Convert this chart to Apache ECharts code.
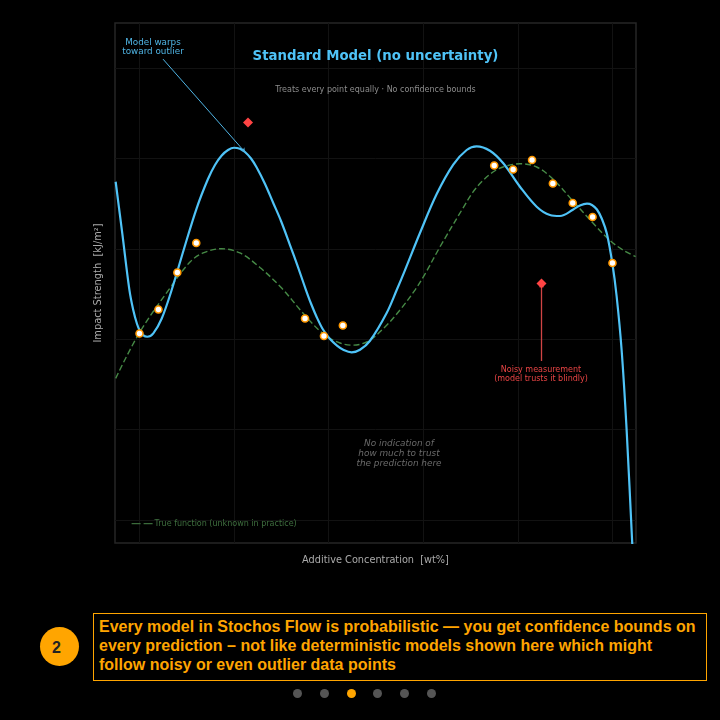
<!DOCTYPE html>
<html>
<head>
    <meta charset="utf-8">
    <title>Standard Model (no uncertainty)</title>
    <script src="https://cdn.jsdelivr.net/npm/echarts@6/dist/echarts.min.js"></script>
    <style>
        html, body { margin: 0; padding: 0; background: #000; width: 720px; height: 720px; overflow: hidden; }
        #main { position: absolute; left: 0; top: 0; width: 720px; height: 600px; }
        #badge { position: absolute; left: 40px; top: 627px; width: 33px; height: 39px; padding-right: 6px; border-radius: 50%; background: #ffa500; color: #222;
                 font: bold 16px/41px "Liberation Sans", sans-serif; text-align: center; }
        #note { position: absolute; left: 93px; top: 613px; width: 598px; height: 63px; padding: 3px 9px 0 5px; border: 1px solid #ffa500; color: #ffa500;
                font: bold 16px/19px "Liberation Sans", sans-serif; }
        #dots { position: absolute; left: 0; top: 689px; width: 720px; height: 9px; }
        #dots span { position: absolute; top: 0; width: 9px; height: 9px; border-radius: 50%; background: #555; }
    </style>
</head>
<body>
<div id="main"></div>
<div id="badge">2</div>
<div id="note">Every model in Stochos Flow is probabilistic — you get confidence bounds on every prediction – not like deterministic models shown here which might follow noisy or even outlier data points</div>
<div id="dots">
    <span style="left:293px"></span><span style="left:320px"></span><span style="left:347px;background:#ffa500"></span>
    <span style="left:373px"></span><span style="left:400px"></span><span style="left:427px"></span>
</div>
<script>
    // values
    var modelCurve = [
        [-0.252, 37.42], [-0.18, 31.53], [-0.108, 25.55], [-0.066, 23.23], [-0.026, 21.68], [0.005, 20.91], [0.037, 20.46],
        [0.082, 20.27], [0.146, 20.65], [0.235, 22.29], [0.34, 25.44], [0.47, 29.98], [0.605, 34.51], [0.724, 37.72],
        [0.798, 39.27], [0.869, 40.32], [0.936, 40.93], [0.999, 41.18], [1.062, 41.06], [1.115, 40.71], [1.179, 39.99],
        [1.239, 38.99], [1.327, 37.17], [1.414, 35.07], [1.496, 33.08], [1.591, 30.42], [1.675, 27.99], [1.76, 25.44],
        [1.813, 23.95], [1.873, 22.46], [1.94, 21.07], [2.014, 20.02], [2.088, 19.3], [2.154, 18.84], [2.243, 18.55],
        [2.331, 18.83], [2.437, 19.83], [2.613, 22.9], [2.719, 25.44], [2.807, 27.65], [2.965, 31.75], [3.142, 36.06],
        [3.317, 39.32], [3.459, 40.93], [3.564, 41.34], [3.705, 40.85], [3.846, 39.46], [4.022, 36.87], [4.199, 34.66],
        [4.339, 33.74], [4.445, 33.63], [4.586, 34.35], [4.656, 34.79], [4.731, 34.99], [4.783, 34.85], [4.836, 34.35],
        [4.889, 33.3], [4.942, 31.64], [5, 28.32], [5.044, 24.78], [5.097, 18.81], [5.15, 9.96], [5.209, -2.54], [5.227, -6.08]
    ];
    var trueCurve = [
        [-0.252, 15.67], [-0.002, 20.69], [0.322, 25.66], [0.534, 28.54], [0.674, 29.54], [0.869, 30.01], [1.062, 29.54],
        [1.274, 27.93], [1.503, 25.66], [1.728, 22.9], [1.943, 20.58], [2.119, 19.58], [2.26, 19.34], [2.419, 19.8],
        [2.595, 21.35], [2.754, 23.23], [2.912, 25.44], [3.018, 27.21], [3.176, 30.2], [3.42, 34.51], [3.525, 36.28],
        [3.631, 37.56], [3.737, 38.5], [3.843, 39.05], [4.022, 39.41], [4.199, 39.05], [4.371, 37.72], [4.582, 35.29],
        [4.794, 32.85], [4.974, 30.92], [5.111, 29.87], [5.245, 29.13]
    ];
    var measurements = [
        [0, 20.63], [0.2, 23.29], [0.4, 27.38], [0.6, 30.64], [1.75, 22.29], [1.95, 20.35], [2.15, 21.52],
        [3.75, 39.21], [3.95, 38.77], [4.15, 39.82], [4.37, 37.22], [4.58, 35.07], [4.79, 33.52], [5, 28.43]
    ];
    var outliers = [[1.147, 43.97], [4.25, 26.16]];
    var xTicks = [0, 1, 2, 3, 4, 5];
    var yTicks = [0, 10, 20, 30, 40, 50];
    var warpLine = [[0.248, 50.99], [1.115, 40.7]];
    var noisyLine = [[4.25, 17.59], [4.25, 26.16]];

    var legendName = 'True function (unknown in practice)';
    var font = '"DejaVu Sans", sans-serif';
    var gridLine = { show: true, lineStyle: { color: '#121212', width: 1 } };
    var warpStyle = { color: '#4fb4e4', width: 1, type: 'solid' };
    var noisyStyle = { color: '#d04444', width: 1.3, type: 'solid' };

    function note(x, y, text, style, color, lineHeight) {
        return {
            type: 'text', x: x, y: y, z: 50, silent: true,
            style: { text: text, fill: color, font: style + ' ' + font, align: 'center', verticalAlign: 'middle', lineHeight: lineHeight }
        };
    }

    var myChart = echarts.init(document.getElementById('main'), null, { renderer: 'canvas' });
    myChart.setOption({
        animation: false,
        backgroundColor: '#000',
        grid: { show: true, left: 115, right: 84, top: 23, height: 520, borderColor: '#262626', borderWidth: 1.5, backgroundColor: '#000' },
        xAxis: {
            type: 'value', min: -0.259, max: 5.249,
            name: 'Additive Concentration  [wt%]', nameLocation: 'middle', nameGap: 12,
            nameTextStyle: { color: '#aaa', fontSize: 9.75, fontFamily: font },
            axisLine: { show: false },
            axisTick: { show: false, customValues: xTicks },
            axisLabel: { show: false, customValues: xTicks },
            splitLine: gridLine
        },
        yAxis: {
            type: 'value', min: -2.544, max: 54.98,
            name: 'Impact Strength  [kJ/m²]', nameLocation: 'middle', nameGap: 12,
            nameTextStyle: { color: '#aaa', fontSize: 9.85, fontFamily: font },
            axisLine: { show: false },
            axisTick: { show: false, customValues: yTicks },
            axisLabel: { show: false, customValues: yTicks },
            splitLine: gridLine
        },
        legend: {
            data: [legendName], left: 126, top: 513, itemWidth: 22, itemHeight: 14, itemGap: 0,
            itemStyle: { opacity: 0 },
            lineStyle: { color: '#3a6a3a', width: 1.2, type: [9, 3] },
            textStyle: { color: '#3f6f3f', fontSize: 8, fontFamily: font, padding: [0, 0, 0, -4] }
        },
        series: [
            {
                name: legendName, type: 'line', data: trueCurve, smooth: 0.35, symbol: 'none', z: 2,
                lineStyle: { color: '#468a46', width: 1.4, type: [6, 3] }, itemStyle: { color: '#468a46' }
            },
            {
                name: 'Model', type: 'line', data: modelCurve, smooth: 0.35, symbol: 'none', z: 3,
                lineStyle: { color: '#4fc3f7', width: 2.2 }, itemStyle: { color: '#4fc3f7' }
            },
            {
                name: 'Measurements', type: 'scatter', data: measurements, symbol: 'circle', symbolSize: 7, z: 5,
                itemStyle: { color: '#fff', borderColor: '#ff9800', borderWidth: 1.6, opacity: 1 }
            },
            {
                name: 'Outliers', type: 'scatter', data: outliers, symbol: 'diamond', symbolSize: 10, z: 6,
                itemStyle: { color: '#ff4444', opacity: 1 },
                markLine: {
                    silent: true, symbol: ['none', 'arrow'], symbolSize: 4, label: { show: false },
                    data: [
                        [{ coord: warpLine[0], lineStyle: warpStyle, itemStyle: { color: warpStyle.color } }, { coord: warpLine[1], lineStyle: warpStyle, itemStyle: { color: warpStyle.color } }],
                        [{ coord: noisyLine[0], lineStyle: noisyStyle, itemStyle: { color: noisyStyle.color } }, { coord: noisyLine[1], lineStyle: noisyStyle, itemStyle: { color: noisyStyle.color } }]
                    ]
                }
            }
        ],
        graphic: [
            note(375.5, 56.5, 'Standard Model (no uncertainty)', 'bold 13.3px', '#4fc3f7', 16),
            note(375.5, 90, 'Treats every point equally · No confidence bounds', '8px', '#8c8c8c', 10),
            note(153, 47, 'Model warps\ntoward outlier', '8.8px', '#4fb4e4', 9.5),
            note(541, 374.5, 'Noisy measurement\n(model trusts it blindly)', '8px', '#e84444', 9.5),
            note(399, 453.5, 'No indication of\nhow much to trust\nthe prediction here', 'italic 8.9px', '#6a6a6a', 10)
        ]
    });
</script>
</body>
</html>
